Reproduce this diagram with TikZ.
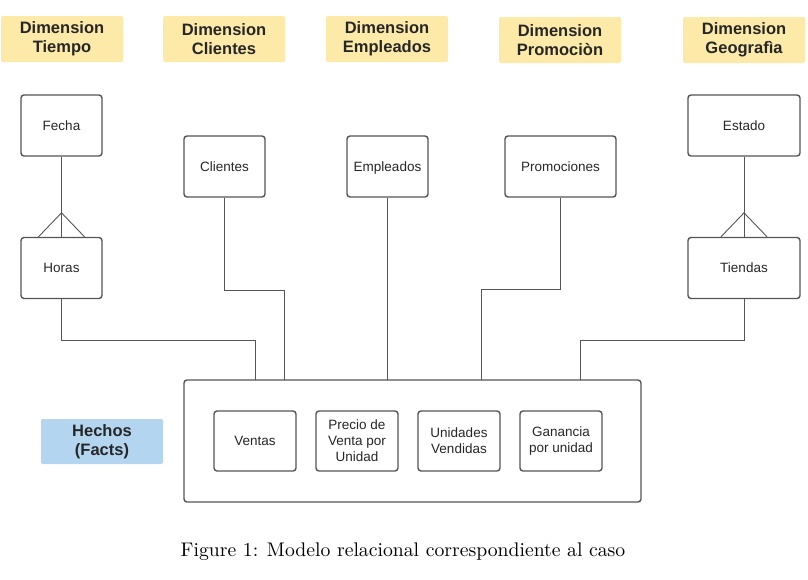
\documentclass[tikz,border=0pt]{standalone}
\usepackage{fontspec}
\newfontfamily\arial{Liberation Sans}
\usetikzlibrary{calc}
\definecolor{hdr}{HTML}{FDE9A8}
\definecolor{facts}{HTML}{B4D5F0}
\definecolor{ln}{HTML}{555555}
\begin{document}
\begin{tikzpicture}[x=1pt,y=-1pt,
  hdrbox/.style={fill=hdr,rounded corners=2pt,minimum width=122pt,minimum height=46pt,inner sep=0pt,align=center,font=\arial\bfseries\fontsize{16.5}{19}\selectfont,text=black!85},
  entbox/.style={draw=ln,line width=1.4pt,rounded corners=3pt,minimum height=61pt,inner sep=0pt,align=center,font=\arial\fontsize{13.5}{16}\selectfont,text=black!85},
  conn/.style={draw=ln,line width=0.9pt}]
\useasboundingbox (0,0) rectangle (808,579);
% headers
\node[hdrbox] (h1) at (62,39) {Dimension\\Tiempo};
\node[hdrbox] (h2) at (224,39) {Dimension\\Clientes};
\node[hdrbox] (h3) at (387,39) {Dimension\\Empleados};
\node[hdrbox] (h4) at (560,40) {Dimension\\Promociòn};
\node[hdrbox] (h5) at (744,40) {Dimension\\Geografìa};
% entities
\node[entbox,minimum width=81pt] (fecha) at (61.5,125.5) {Fecha};
\node[entbox,minimum width=81pt] (horas) at (61.5,268) {Horas};
\node[entbox,minimum width=81pt] (clientes) at (224.5,166.5) {Clientes};
\node[entbox,minimum width=81pt] (empleados) at (387.5,166.5) {\raisebox{0pt}[\height][0pt]{Empleados}};
\node[entbox,minimum width=111pt] (promo) at (560.5,166.5) {Promociones};
\node[entbox,minimum width=112pt] (estado) at (744,125.5) {Estado};
\node[entbox,minimum width=112pt] (tiendas) at (744,268) {Tiendas};
% facts
\node[draw=ln,line width=1.4pt,rounded corners=3pt,minimum width=457pt,minimum height=122pt,inner sep=0pt] (hechos) at (412.5,441) {};
\node[entbox,minimum width=82pt,minimum height=60pt] (ventas) at (255,441) {Ventas};
\node[entbox,minimum width=82pt,minimum height=60pt] (precio) at (357,441) {Precio de\\Venta por\\Unidad};
\node[entbox,minimum width=82pt,minimum height=60pt] (unidades) at (459,441) {Unidades\\Vendidas};
\node[entbox,minimum width=82pt,minimum height=60pt] (ganancia) at (561,441) {Ganancia\\por unidad};
\node[fill=facts,rounded corners=2pt,minimum width=122pt,minimum height=45pt,inner sep=0pt,align=center,font=\arial\bfseries\fontsize{16.5}{19}\selectfont,text=black!85] (hlabel) at (102,441.5) {Hechos\\(Facts)};
% connector endpoints on facts box
\coordinate (f1) at (255,380);
\coordinate (f2) at (284,380);
\coordinate (f3) at (387.5,380);
\coordinate (f4) at (481,380);
\coordinate (f5) at (580,380);
% connectors
\draw[conn] (fecha.south) -- (horas.north);
\draw[conn] ($(horas.north)+(-23,0)$) -- ($(horas.north)+(0,-24)$) -- ($(horas.north)+(23,0)$);
\draw[conn] (estado.south) -- (tiendas.north);
\draw[conn] ($(tiendas.north)+(-23,0)$) -- ($(tiendas.north)+(0,-24)$) -- ($(tiendas.north)+(23,0)$);
\draw[conn] (horas.south) -- ++(0,41) -| (f1);
\draw[conn] (clientes.south) -- ++(0,93) -| (f2);
\draw[conn] (empleados.south) -- (f3);
\draw[conn] (promo.south) -- ++(0,92) -| (f4);
\draw[conn] (tiendas.south) -- ++(0,41) -| (f5);
% caption
\node[inner sep=0pt] (cap) at (403,552) {\scalebox{1.97}{\fontsize{10}{12}\selectfont Figure 1: Modelo relacional correspondiente al caso}};
\end{tikzpicture}
\end{document}
